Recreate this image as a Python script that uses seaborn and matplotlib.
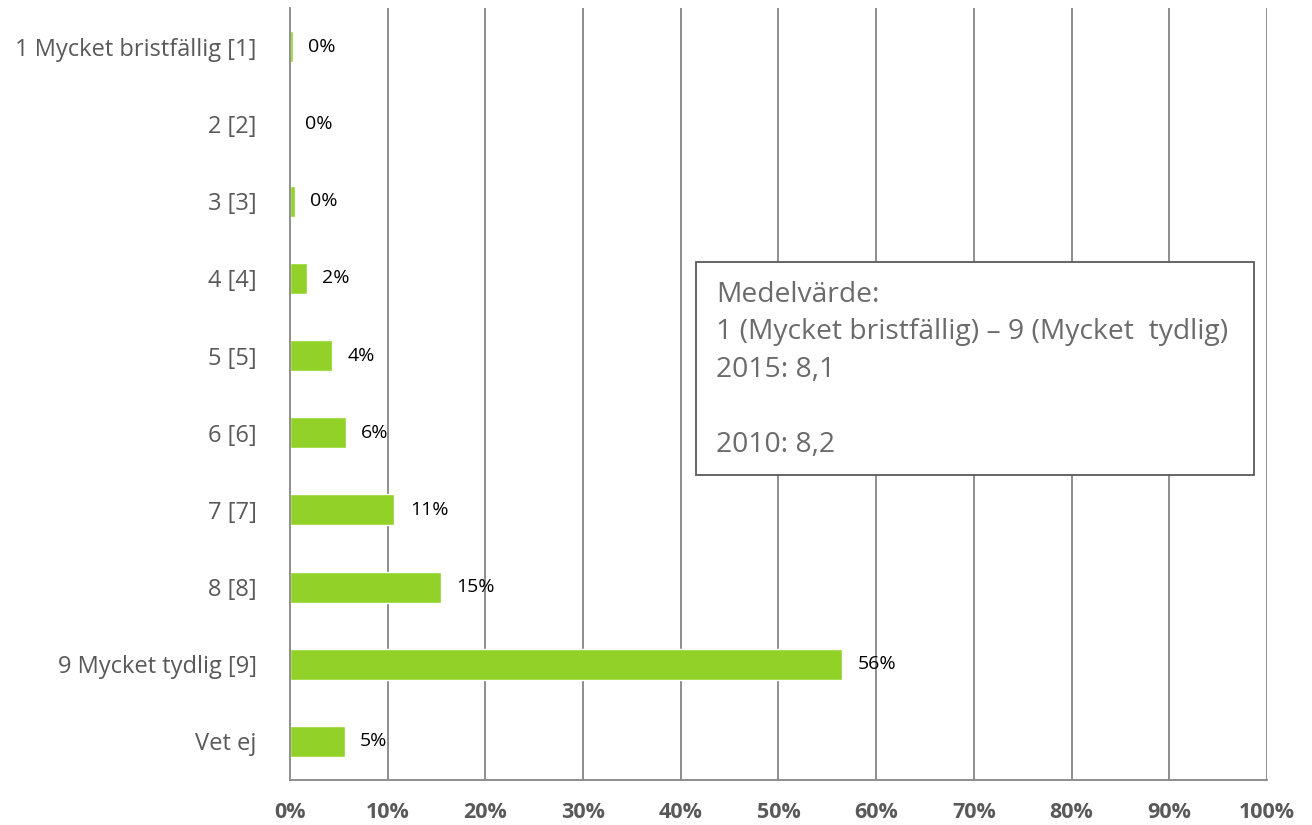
import numpy as np
import pandas as pd
import seaborn as sns
import matplotlib.pyplot as plt
from matplotlib.patches import Rectangle

categories = ['1 Mycket bristfällig [1]', '2 [2]', '3 [3]', '4 [4]', '5 [5]',
              '6 [6]', '7 [7]', '8 [8]', '9 Mycket tydlig [9]', 'Vet ej']
values = [0.3, 0.0, 0.5, 1.7, 4.3, 5.7, 10.7, 15.5, 56.5, 5.6]
labels = ['0%', '0%', '0%', '2%', '4%', '6%', '11%', '15%', '56%', '5%']
box_lines = ['Medelvärde:', '1 (Mycket bristfällig) – 9 (Mycket  tydlig)',
             '2015: 8,1', '', '2010: 8,2']

df = pd.DataFrame({'cat': categories, 'val': values})

sns.set_style('white')
plt.rcParams['font.family'] = ['Open Sans', 'DejaVu Sans']

fig = plt.figure(figsize=(13.12, 8.25), dpi=100)
ax = fig.add_axes([0.221, 0.0545, 0.7447, 0.9355])

green = '#92D127'
grey = '#868686'
sns.barplot(data=df, x='val', y='cat', color=green, width=0.4, ax=ax,
            saturation=1, orient='h')

ax.set_xlim(0, 100)
ax.set_ylim(len(categories) - 0.5, -0.5)
ax.set_xticks(np.arange(0, 101, 10))
ax.set_xticklabels([f'{t}%' for t in range(0, 101, 10)],
                   fontsize=15.5, fontweight='bold', color='#595959')
ax.set_yticks(range(len(categories)))
ax.set_yticklabels(categories, fontsize=17, color='#595959')
ax.set_xlabel('')
ax.set_ylabel('')

# gridlines
for t in range(10, 101, 10):
    ax.axvline(t, color=grey, lw=1.3, zorder=0)

for s in ['top', 'right']:
    ax.spines[s].set_visible(False)
for s in ['left', 'bottom']:
    ax.spines[s].set_color(grey)
    ax.spines[s].set_linewidth(1.3)

ax.tick_params(axis='y', which='major', length=0, pad=24)
ax.set_yticks(np.arange(-0.5, len(categories), 1), minor=True)
ax.tick_params(axis='y', which='minor', length=4, color=grey, width=1.3, direction='out')
ax.tick_params(axis='x', which='major', length=5, color=grey, width=1.3,
               direction='out', pad=11)

for i, (v, lab) in enumerate(zip(values, labels)):
    ax.annotate(lab, xy=(v, i), xytext=(11, 0), textcoords='offset points',
                va='center', ha='left', fontsize=14, color='black')

# annotation box
ax.add_patch(Rectangle((0.4156, 0.395), 0.5711, 0.276, transform=ax.transAxes,
                       facecolor='white', edgecolor='#595959', lw=1.3, zorder=5))
y0 = 0.629
for k, line in enumerate(box_lines):
    ax.text(0.436, y0 - k * 0.0488, line, transform=ax.transAxes, fontsize=20.3,
            color='#6b6b6b', va='center', ha='left', zorder=6)

plt.savefig('out.png', dpi=100)
